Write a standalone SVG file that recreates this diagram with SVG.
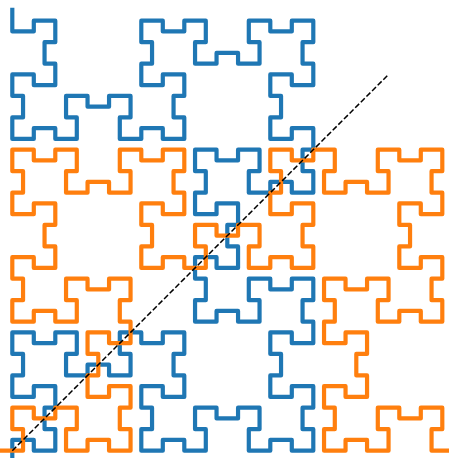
<svg xmlns="http://www.w3.org/2000/svg" width="449" height="458" viewBox="0 0 449 458">
<style>
.curve{fill:none;stroke-width:0.39;stroke-linejoin:round;stroke-linecap:square}
.blue{stroke:#1f77b4}
.orange{stroke:#ff7f0e}
.diag{fill:none;stroke:#000;stroke-width:1.5;stroke-dasharray:5.55 2.4}
</style>
<defs>
<path id="hc" d="M0,-1 L0,1 2,1 2,0 4,0 4,2 3,2 3,4 4,4 4,6 2,6 2,5 0,5 0,7 1,7 1,9 0,9 0,11 2,11 2,10 4,10 4,11 6,11 6,9 5,9 5,7 7,7 7,8 9,8 9,7 11,7 11,9 10,9 10,11 12,11 12,10 14,10 14,11 16,11 16,9 15,9 15,7 16,7 16,5 14,5 14,6 12,6 12,4 13,4 13,2 12,2 12,0 14,0 14,1 16,1 16,0 18,0 18,2 17,2 17,4 19,4 19,3 21,3 21,4 23,4 23,2 22,2 22,0 24,0 24,1 26,1 26,0 28,0 28,2 27,2 27,4 28,4 28,6 26,6 26,5 24,5 24,7 25,7 25,9 24,9 24,11 26,11 26,10 28,10 28,12 27,12 27,14 28,14 28,16 26,16 26,15 24,15 24,16 22,16 22,14 23,14 23,12 21,12 21,13 19,13 19,12 17,12 17,14 18,14 18,16 17,16 17,18 19,18 19,17 21,17 21,19 20,19 20,21 21,21 21,23 19,23 19,22 17,22 17,24 18,24 18,26 17,26 17,28 19,28 19,27 21,27 21,28 23,28 23,26 22,26 22,24 24,24 24,25 26,25 26,24 28,24 28,26 27,26 27,28 28,28 28,30 26,30 26,29 24,29 24,31 25,31 25,33 24,33 24,35 26,35 26,34 28,34 28,36 27,36 27,38 28,38 28,40 26,40 26,39 24,39 24,40 22,40 22,38 23,38 23,36 21,36 21,37 19,37 19,36 17,36 17,38 18,38 18,40 16,40 16,39 14,39 14,40 12,40 12,38 13,38 13,36 12,36 12,34 14,34 14,35 16,35 16,33 15,33 15,31 16,31 16,29 14,29 14,30 12,30 12,29 10,29 10,31 11,31 11,33 9,33 9,32 7,32 7,33 5,33 5,31 6,31 6,29 4,29 4,30 2,30 2,29 0,29 0,31 1,31 1,33 0,33 0,35 2,35 2,34 4,34 4,36 3,36 3,38 4,38 4,40 2,40 2,39 0,39 0,41"/>
</defs>
<rect width="449" height="458" fill="#ffffff"/>
<g id="curves" transform="translate(12.3,20.7) scale(10.75)">
<use id="blue-curve" href="#hc" class="curve blue"/>
<use id="orange-curve" href="#hc" class="curve orange" transform="matrix(0,-1,-1,0,40,40)"/>
</g>
<line id="diagonal" class="diag" x1="12.3" y1="450.7" x2="388.5" y2="74.5"/>
</svg>
